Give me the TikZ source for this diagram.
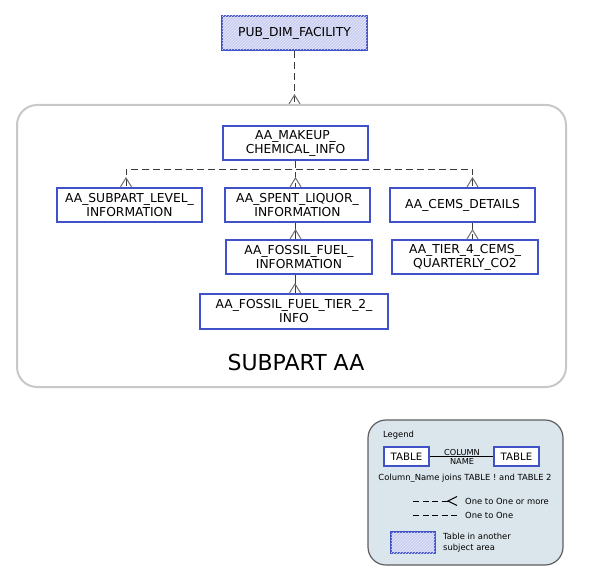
\documentclass[tikz,border=0pt]{standalone}
\usepackage{fontspec}
\setmainfont{DejaVu Sans}
\usetikzlibrary{patterns}
\definecolor{tblblue}{HTML}{4152C8}
\definecolor{hatchfill}{HTML}{C9CDF0}
\definecolor{hatchline}{HTML}{E6E8F9}
\definecolor{subgray}{HTML}{C8C8C8}
\definecolor{lgfill}{HTML}{DBE6EC}
\definecolor{lgborder}{HTML}{5E5E5E}
\definecolor{relcol}{HTML}{3A3A3A}
\definecolor{crowcol}{HTML}{707070}
\tikzset{
  tbl/.style={draw=tblblue, line width=2.2pt, fill=white, inner sep=0pt, align=center,
    font=\fontsize{12.3}{14}\selectfont, text=black},
  hatched/.style={fill=hatchfill, postaction={pattern=north east lines, pattern color=hatchline}},
  container/.style={draw=subgray, line width=2pt, rounded corners=20pt, inner sep=0pt},
  legendbox/.style={draw=lgborder, line width=1.2pt, fill=lgfill, rounded corners=18pt, inner sep=0pt},
  rel/.style={draw=relcol, line width=1pt, dash pattern=on 7pt off 4pt},
  solidrel/.style={draw=relcol, line width=1pt},
  crowline/.style={draw=crowcol, line width=1pt},
  crow/.pic={\draw[crowline] (-5.5,0) -- (0,-9) -- (5.5,0);},
  lgtext/.style={font=\fontsize{8.4}{10.5}\selectfont, inner sep=0pt, text=black},
  lgtbl/.style={draw=tblblue, line width=2pt, fill=white, inner sep=0pt,
    font=\fontsize{10.2}{12}\selectfont},
}
\begin{document}
\begin{tikzpicture}[x=1pt,y=-1pt]
\useasboundingbox (0,0) rectangle (591,575);
% subject area container
\node[container, minimum width=549pt, minimum height=282pt] (sa) at (291.5,246) {};
\node[font=\fontsize{22}{26}\selectfont, inner sep=0pt] (satitle) at (296,362) {SUBPART AA};
% tables
\node[tbl, hatched, minimum width=145pt, minimum height=34pt] (pub) at (294.5,33) {PUB\_DIM\_FACILITY};
\node[tbl, minimum width=145pt, minimum height=34pt] (makeup) at (295.5,143) {AA\_MAKEUP\_\\CHEMICAL\_INFO};
\node[tbl, minimum width=145pt, minimum height=34pt] (sublev) at (129.5,205) {AA\_SUBPART\_LEVEL\_\\INFORMATION};
\node[tbl, minimum width=145pt, minimum height=34pt] (spent) at (297.5,205) {AA\_SPENT\_LIQUOR\_\\INFORMATION};
\node[tbl, minimum width=145pt, minimum height=34pt] (cems) at (462.5,205) {AA\_CEMS\_DETAILS};
\node[tbl, minimum width=146pt, minimum height=34pt] (fossil) at (299,257) {AA\_FOSSIL\_FUEL\_\\INFORMATION};
\node[tbl, minimum width=146pt, minimum height=34pt] (tier4) at (465,257) {AA\_TIER\_4\_CEMS\_\\QUARTERLY\_CO2};
\node[tbl, minimum width=188pt, minimum height=35pt] (tier2) at (294,311.5) {AA\_FOSSIL\_FUEL\_TIER\_2\_\\INFO};
% connectors
\draw[rel] (pub.south) -- (pub.south |- sa.north);
\pic at (pub.south |- sa.north) {crow};
\coordinate (bus) at (0,169);
\draw[rel] (makeup.south) -- (makeup.south |- bus) -| ([xshift=-3.5pt]sublev.north);
\pic at ([xshift=-3.5pt]sublev.north) {crow};
\draw[rel] (makeup.south) -- (makeup.south |- spent.north);
\pic at (makeup.south |- spent.north) {crow};
\draw[rel] (makeup.south |- bus) -| ([xshift=10pt]cems.north);
\pic at ([xshift=10pt]cems.north) {crow};
\draw[solidrel] ([xshift=-2pt]spent.south) -- ([xshift=-2pt]spent.south |- fossil.north);
\pic at ([xshift=-2pt]spent.south |- fossil.north) {crow};
\draw[solidrel] ([xshift=-4pt]fossil.south) -- ([xshift=-4pt]fossil.south |- tier2.north);
\pic at ([xshift=-4pt]fossil.south |- tier2.north) {crow};
\draw[rel] ([xshift=10pt]cems.south) -- ([xshift=10pt]cems.south |- tier4.north);
\pic at ([xshift=10pt]cems.south |- tier4.north) {crow};
% legend
\node[legendbox, minimum width=195pt, minimum height=145pt] (lg) at (465.5,492.5) {};
\node[lgtext, anchor=west] (lgtitle) at (383,435) {Legend};
\node[lgtbl, minimum width=45pt, minimum height=19pt] (t1) at (406.5,456.5) {TABLE};
\node[lgtbl, minimum width=45pt, minimum height=19pt] (t2) at (516.5,456.5) {TABLE};
\draw[solidrel, draw=black] (t1.east) -- (t2.west);
\node[lgtext, font=\fontsize{8.2}{9}\selectfont, anchor=south] (colname) at (462,455.5) {COLUMN};
\node[lgtext, font=\fontsize{8.2}{9}\selectfont, anchor=north] (namelbl) at (462,458.5) {NAME};
\node[lgtext] (joins) at (465,478) {Column\_Name joins TABLE ! and TABLE 2};
\coordinate (l1a) at (413,501);
\coordinate (l1b) at (448,501);
\coordinate (l1c) at (457,501);
\draw[rel, dash pattern=on 6pt off 3.5pt, draw=black] (l1a) -- (l1b);
\draw[crowline, draw=black] ([yshift=-4.5pt]l1c) -- (l1b) -- ([yshift=4.5pt]l1c);
\node[lgtext, anchor=west] (one1) at (465,501) {One to One or more};
\coordinate (l2a) at (413,515);
\coordinate (l2b) at (457,515);
\draw[rel, dash pattern=on 6pt off 3.5pt, draw=black] (l2a) -- (l2b);
\node[lgtext, anchor=west] (one2) at (465,515) {One to One};
\node[lgtbl, hatched, minimum width=44pt, minimum height=21pt] (hb) at (413,542.5) {};
\node[lgtext, anchor=west, align=left] (other) at (443,542.5) {Table in another\\subject area};
\end{tikzpicture}
\end{document}
